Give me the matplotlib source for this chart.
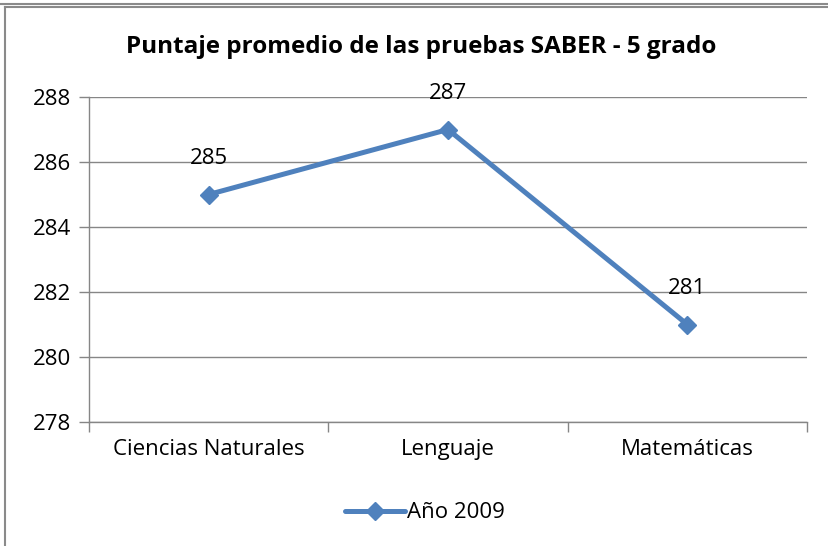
import matplotlib
matplotlib.use("Agg")
import matplotlib.pyplot as plt
from matplotlib.lines import Line2D

categories = ["Ciencias Naturales", "Lenguaje", "Matemáticas"]
values = [285, 287, 281]
series_name = "Año 2009"
title = "Puntaje promedio de las pruebas SABER - 5 grado"
yticks = [278, 280, 282, 284, 286, 288]

W, H = 829, 546
plt.rcParams['font.family'] = ['Open Sans', 'DejaVu Sans']
fig = plt.figure(figsize=(W / 100, H / 100), dpi=100)

def fx(px):
    return px / W

def fy(py):
    return 1 - py / H

FS = 16
ax = fig.add_axes([fx(89), fy(422), fx(807) - fx(89), fy(97) - fy(422)])
color = "#4F81BD"
gray = "#868686"
x = list(range(len(categories)))
ax.plot(x, values, color=color, lw=3.6, marker="D", markersize=9,
        markerfacecolor=color, markeredgecolor=color, label=series_name, zorder=3,
        solid_capstyle="round")
for xi, v in zip(x, values):
    ax.annotate(str(v), (xi, v), xytext=(0, 26), textcoords="offset points",
                ha="center", va="center", fontsize=FS, color="black")

ax.set_xlim(-0.5, len(categories) - 0.5)
ax.set_ylim(min(yticks), max(yticks))
ax.set_yticks(yticks)
ax.set_yticklabels([str(t) for t in yticks])
ax.yaxis.grid(True, color=gray, lw=1)
ax.set_axisbelow(True)
ax.set_xticks(x)
ax.set_xticklabels(categories)
ax.set_xticks([i - 0.5 for i in range(len(categories) + 1)], minor=True)
ax.tick_params(axis="x", which="major", length=0, pad=12, labelsize=FS)
ax.tick_params(axis="x", which="minor", length=7, width=1, color=gray, direction="out")
ax.tick_params(axis="y", length=7, width=1, color=gray, pad=6, labelsize=FS)
for s in ["top", "right"]:
    ax.spines[s].set_visible(False)
for s in ["left", "bottom"]:
    ax.spines[s].set_color(gray)
    ax.spines[s].set_linewidth(1)

fig.text(fx(421), fy(47), title, ha="center", va="center", fontsize=17.5,
         fontweight="bold")

leg = fig.legend(loc="center", bbox_to_anchor=(fx(425), fy(513)), frameon=False,
                 fontsize=FS, handlelength=2.7, handletextpad=0.1)

border = "#8a8a8a"
fig.add_artist(Line2D([0, 1], [fy(3.5), fy(3.5)], transform=fig.transFigure, color=border, lw=1.5))
fig.add_artist(Line2D([fx(5.5), 1], [fy(6.5), fy(6.5)], transform=fig.transFigure, color=border, lw=1.5))
fig.add_artist(Line2D([fx(5.5), fx(5.5)], [fy(6.5), 0], transform=fig.transFigure, color=border, lw=1.5))

fig.savefig("out.png", dpi=100)
